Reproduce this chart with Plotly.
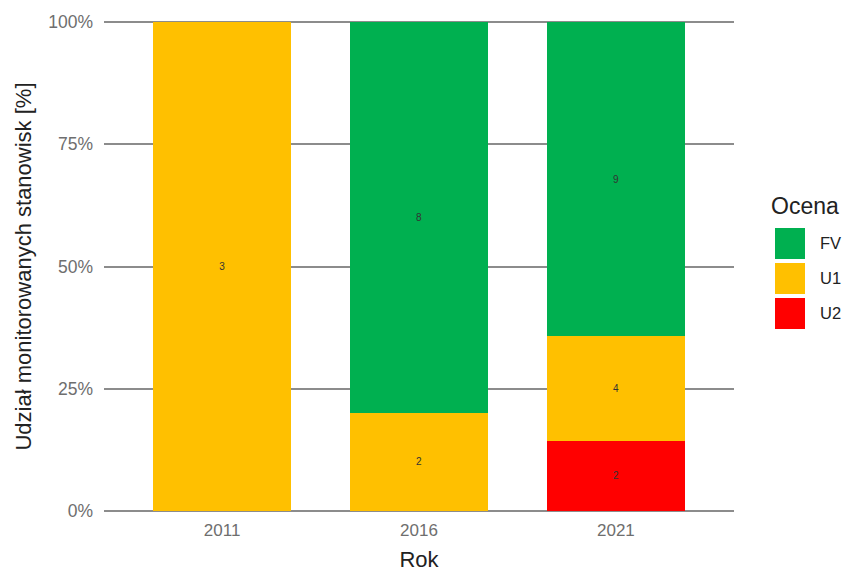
import plotly.graph_objects as go

years = ["2011", "2016", "2021"]
# shares (%)
fv_pct = [None, 80.0, 64.3]
u1_pct = [100.0, 20.0, 21.4]
u2_pct = [None, None, 14.3]
# count labels printed inside segments
fv_lbl = ["", "8", "9"]
u1_lbl = ["3", "2", "4"]
u2_lbl = ["", "", "2"]

categories = ["FV", "U1", "U2"]
colors = {"FV": "#00B050", "U1": "#FFC000", "U2": "#FF0000"}

FONT = "Liberation Sans, Arial, sans-serif"

fig = go.Figure()
for name, vals, lbls in [("U2", u2_pct, u2_lbl), ("U1", u1_pct, u1_lbl), ("FV", fv_pct, fv_lbl)]:
    fig.add_trace(go.Bar(
        x=years, y=vals, name=name, text=lbls,
        marker=dict(color=colors[name], line=dict(width=0)),
        textposition="inside", insidetextanchor="middle", textangle=0,
        constraintext="none",
        textfont=dict(size=10, color="#333333", family=FONT),
        width=0.7, showlegend=False, hoverinfo="skip",
    ))

fig.update_layout(
    width=846, height=584,
    barmode="stack",
    plot_bgcolor="white", paper_bgcolor="white",
    margin=dict(l=104, r=112, t=21, b=72, autoexpand=False),
    font=dict(family=FONT, color="#6e6e6e", size=18),
    xaxis=dict(
        range=[-0.6, 2.6], showgrid=False, zeroline=False, showline=False,
        ticks="", ticklabelstandoff=6,
        tickfont=dict(size=17, color="#6e6e6e"),
        title=dict(text="Rok", font=dict(size=22, color="#222222"), standoff=12),
    ),
    yaxis=dict(
        range=[-0.25, 100.25], tickvals=[0, 25, 50, 75, 100],
        ticktext=["0%", "25%", "50%", "75%", "100%"],
        showgrid=True, gridcolor="#8c8c8c", gridwidth=1.5,
        zeroline=False, showline=False, ticks="", ticklabelstandoff=10,
        tickfont=dict(size=17.5, color="#6e6e6e"),
        title=dict(text="Udział monitorowanych stanowisk [%]", font=dict(size=22, color="#222222"), standoff=10),
    ),
)

# legend drawn manually (large square keys), positioned relative to plot's top-right corner
fig.add_annotation(x=1.0, y=1.0, xref="paper", yref="paper", text="Ocena",
                   showarrow=False, xanchor="left", yanchor="middle",
                   xshift=769 - 734, yshift=21 - 206,
                   font=dict(size=23, color="#222222"))
for i, name in enumerate(categories):
    y0 = 228 + i * 35
    fig.add_shape(type="rect", xsizemode="pixel", ysizemode="pixel",
                  xref="paper", yref="paper", xanchor=1.0, yanchor=1.0,
                  x0=775 - 734, x1=805 - 734, y0=21 - y0, y1=21 - y0 - 31,
                  fillcolor=colors[name], line=dict(width=0))
    fig.add_annotation(x=1.0, y=1.0, xref="paper", yref="paper", text=name,
                       showarrow=False, xanchor="left", yanchor="middle",
                       xshift=818 - 734, yshift=21 - (y0 + 15),
                       font=dict(size=16.5, color="#222222"))

fig.write_html("out.html", config={"displayModeBar": False},
               post_script="document.body.style.margin='0';document.body.style.overflow='hidden';")
